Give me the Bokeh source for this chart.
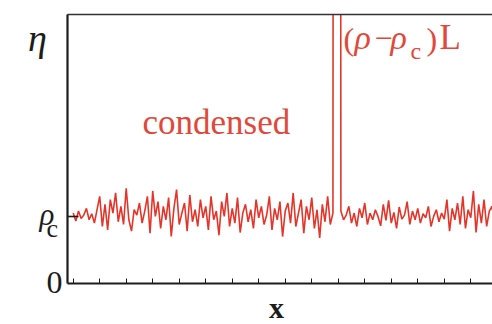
from bokeh.plotting import figure
from bokeh.models import Range1d, LinearAxis, SingleIntervalTicker, FixedTicker, Label
from bokeh.embed import file_html
from bokeh.resources import INLINE

# ---- data (site index, density eta in units where rho_c = 1) ----
RHO_C = 1.0
eta = [
    1.05, 0.93, 1.08, 0.97, 1.02, 1.12, 0.95, 1.04, 0.90, 1.10, 1.30,
    0.85, 1.18, 0.80, 1.25, 1.05, 1.35, 0.92, 1.15, 0.88, 1.42,
    0.95, 0.78, 1.10, 1.02, 1.20, 0.90, 1.08, 1.30, 0.75, 1.38,
    1.00, 1.22, 0.82, 1.15, 0.95, 1.28, 0.70, 1.12, 1.40, 0.88,
    1.05, 1.20, 0.78, 1.32, 0.92, 1.10, 0.85, 1.25, 0.98, 1.15,
    0.80, 1.30, 0.95, 1.08, 0.72, 1.22, 1.00, 1.35, 0.85, 1.12,
    0.90, 1.28, 0.76, 1.05, 1.18, 0.92, 1.10, 0.82, 1.25, 0.98,
    1.15, 0.88, 1.02, 1.30, 0.80, 1.12, 0.95, 1.22, 0.70, 1.08,
    1.20, 0.90, 1.35, 0.85, 1.05, 1.25, 0.75, 1.15, 0.95, 1.28,
    0.82, 1.10, 0.68, 1.18, 0.92, 1.30, 0.88, 1.05,
    60.0, 60.0,
    1.08, 0.95, 1.02, 1.15, 0.90, 1.05, 0.85, 1.12, 0.98, 1.20,
    0.88, 1.05, 0.95, 1.10, 1.00, 0.86, 1.18, 0.94, 1.24, 0.90,
    1.06, 0.82, 1.14, 0.96, 1.02, 1.22, 0.88, 1.08, 0.95, 1.12,
    0.90, 1.04, 0.98, 1.15, 0.85, 1.00, 1.10, 0.92, 1.05, 0.96,
    1.25, 0.78, 1.12, 0.95, 1.20, 0.88, 1.30, 0.82, 1.10, 0.98,
    1.38, 0.76, 1.18, 0.90, 1.25, 0.85, 1.08, 1.15, 0.92, 1.20, 1.00,
]
sites = list(range(len(eta)))

W, H = 492, 324
LEFT, TOP, BOTTOM = 67, 14, 41
X0, X1 = -2.15, 158.2
Y0, Y1 = 0.0, 4.01

RED = "#e5352a"
TXT_RED = "#e2483a"
DARK = "#1c1c1c"
SERIF = "Liberation Serif"

p = figure(width=W, height=H, output_backend="svg", toolbar_location=None,
           x_range=Range1d(X0, X1), y_range=Range1d(Y0, Y1),
           min_border_left=LEFT, min_border_right=0,
           min_border_top=TOP, min_border_bottom=BOTTOM,
           x_axis_type=None, y_axis_type=None)
p.outline_line_color = None
p.grid.visible = False
p.background_fill_color = "white"
p.border_fill_color = "white"

def plain_axis(**kw):
    return LinearAxis(major_label_text_font_size="0px", major_label_standoff=0,
                      minor_tick_line_color=None, **kw)

xax = plain_axis(ticker=SingleIntervalTicker(interval=10),
                 axis_line_color=DARK, axis_line_width=2.2,
                 major_tick_line_color=DARK, major_tick_line_width=1,
                 major_tick_in=5, major_tick_out=0)
p.add_layout(xax, "below")

yax = plain_axis(ticker=FixedTicker(ticks=[RHO_C]),
                 axis_line_color=DARK, axis_line_width=2.2,
                 major_tick_line_color=DARK, major_tick_line_width=1.6,
                 major_tick_in=11, major_tick_out=0)
p.add_layout(yax, "left")

top = plain_axis(ticker=FixedTicker(ticks=[]), axis_line_color="#333333",
                 axis_line_width=1.5, major_tick_line_color=None)
p.add_layout(top, "above")

p.line(sites, eta, line_color=RED, line_width=1.6)

# pixel -> data helpers for text placement
fw = W - LEFT
fh = H - TOP - BOTTOM
def dx(px):
    return X0 + (px - LEFT) / fw * (X1 - X0)
def dy(py):
    return Y0 + (H - BOTTOM - py) / fh * (Y1 - Y0)

def lab(text, px, py, size, color=DARK, style="normal", align="left", place=None):
    l = Label(x=dx(px), y=dy(py - 0.34 * size), text=text, text_font=SERIF,
              text_font_size=f"{size}px", text_color=color,
              text_font_style=style, text_align=align,
              text_baseline="alphabetic")
    if place:
        p.add_layout(l, place)
    else:
        p.add_layout(l)

lab("η", 37, 50, 38, style="italic", align="center", place="left")
lab("ρ", 54, 225, 31, style="italic", align="right", place="left")
lab("c", 46, 237, 26, place="left")
lab("0", 62, 293, 32, align="right", place="left")
lab("x", 276, 317, 30, style="bold", align="center", place="below")

lab("condensed", 142, 134, 35, color=TXT_RED)
lab("(", 343, 49, 32, color=TXT_RED)
lab("ρ", 354, 49, 34, color=TXT_RED, style="italic")
lab("−", 374, 49, 32, color=TXT_RED)
lab("ρ", 390, 49, 34, color=TXT_RED, style="italic")
lab("c", 410, 59, 24, color=TXT_RED)
lab(")", 426, 49, 32, color=TXT_RED)
lab("L", 439, 49, 35, color=TXT_RED)

open("out.html", "w").write(file_html(p, INLINE))
